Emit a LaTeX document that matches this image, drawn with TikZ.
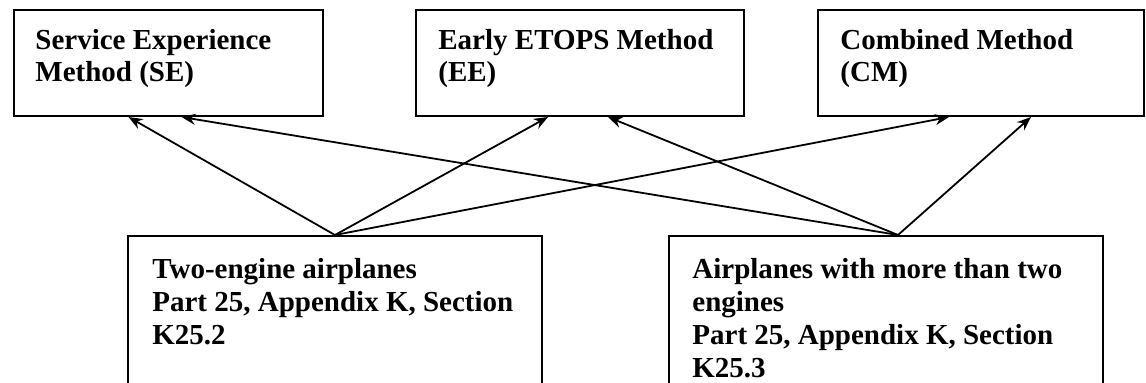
\documentclass[tikz,border=0pt]{standalone}
\usepackage{fontspec}
\setmainfont{Liberation Serif}
\usetikzlibrary{arrows.meta,calc}
\tikzset{
  method/.style    = {draw, line width=1pt, rectangle, inner sep=0pt,
                      minimum height=53pt, anchor=north west},
  group/.style     = {draw, line width=1pt, rectangle, inner sep=0pt,
                      minimum height=85pt, anchor=north west},
  methodtext/.style = {anchor=north west, inner sep=0pt, align=left,
                      font=\bfseries\fontsize{14.5}{16}\selectfont},
  grouptext/.style = {anchor=north west, inner sep=0pt, align=left,
                      font=\bfseries\fontsize{14.5}{16.5}\selectfont},
  sig/.style       = {-{Stealth[length=7pt,width=5.5pt]}, line width=0.9pt},
}
\begin{document}
\begin{tikzpicture}[x=0.5pt, y=0.5pt]
\useasboundingbox (0,0) rectangle (1146,382);
\clip (0,0) rectangle (1146,382);
% ---- the three methods ----
\node[method, minimum width=154.5pt] (se) at (13,373) {};
\node[method, minimum width=164pt]   (ee) at (415,373) {};
\node[method, minimum width=163pt]   (cm) at (817,373) {};
\node[methodtext] (se-t) at ($(se.north west)+(22,-20)$) {Service Experience\\Method (SE)};
\node[methodtext] (ee-t) at ($(ee.north west)+(23,-20)$) {Early ETOPS Method\\(EE)};
\node[methodtext] (cm-t) at ($(cm.north west)+(23,-20)$) {Combined Method\\(CM)};
% ---- airplane groups, cut off at the bottom ----
\node[group, minimum width=207pt] (two)  at (127,147) {};
\node[group, minimum width=217pt] (more) at (668,147) {};
\node[grouptext] (two-t) at ($(two.north west)+(25,-23)$)
  {Two-engine airplanes\\Part 25, Appendix K, Section\\K25.2};
\node[grouptext] (more-t) at ($(more.north west)+(24,-23)$)
  {Airplanes with more than two\\engines\\Part 25, Appendix K, Section\\K25.3};
% ---- each group may use every method ----
\draw[sig] (two.north) -- ($(se.south)+(-40,0)$);
\draw[sig] (two.north) -- ($(ee.south)+(-32,0)$);
\draw[sig] (two.north) -- ($(cm.south)+(-32,0)$);
\draw[sig] ($(more.north)+(12,0)$) -- ($(se.south)+(13,0)$);
\draw[sig] ($(more.north)+(12,0)$) -- ($(ee.south)+(28,0)$);
\draw[sig] ($(more.north)+(12,0)$) -- ($(cm.south)+(50,0)$);
\end{tikzpicture}
\end{document}
